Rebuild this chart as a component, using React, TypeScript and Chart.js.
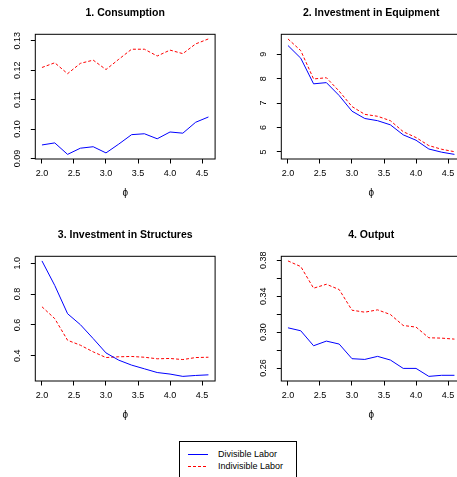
import React, { useEffect, useRef } from 'react';
import { Chart, registerables } from 'chart.js';

Chart.register(...registerables);

const FONT = "'Liberation Sans', Arial, Helvetica, sans-serif";
const BLUE = '#0000FF';
const RED = '#FF0000';

const phi = [2.0, 2.2, 2.4, 2.6, 2.8, 3.0, 3.2, 3.4, 3.6, 3.8, 4.0, 4.2, 4.4, 4.6];

const consumptionDivisible = [0.0946, 0.0953, 0.0914, 0.0935, 0.0940, 0.0919, 0.0949, 0.0981, 0.0984, 0.0967, 0.0990, 0.0986, 0.1023, 0.1041];
const consumptionIndivisible = [0.1209, 0.1225, 0.1188, 0.1223, 0.1234, 0.1202, 0.1237, 0.1271, 0.1271, 0.1248, 0.1268, 0.1256, 0.1289, 0.1306];

const equipmentDivisible = [9.36, 8.84, 7.79, 7.84, 7.31, 6.67, 6.37, 6.28, 6.11, 5.70, 5.48, 5.12, 4.99, 4.90];
const equipmentIndivisible = [9.63, 9.15, 7.99, 8.04, 7.49, 6.86, 6.54, 6.46, 6.28, 5.83, 5.59, 5.26, 5.11, 5.01];

const structuresDivisible = [1.015, 0.856, 0.673, 0.602, 0.512, 0.419, 0.372, 0.340, 0.316, 0.292, 0.282, 0.267, 0.273, 0.277];
const structuresIndivisible = [0.718, 0.641, 0.501, 0.469, 0.426, 0.389, 0.394, 0.396, 0.391, 0.381, 0.383, 0.376, 0.389, 0.391];

const outputDivisible = [0.3048, 0.3015, 0.2848, 0.2900, 0.2867, 0.2704, 0.2696, 0.2730, 0.2689, 0.2596, 0.2596, 0.2507, 0.2519, 0.2519];
const outputIndivisible = [0.3793, 0.3730, 0.3489, 0.3533, 0.3474, 0.3244, 0.3222, 0.3248, 0.3196, 0.3074, 0.3056, 0.2937, 0.2933, 0.2922];

const xTicks = [2.0, 2.5, 3.0, 3.5, 4.0, 4.5];
const xTickLabels = ['2.0', '2.5', '3.0', '3.5', '4.0', '4.5'];

const yTicks1 = [0.09, 0.10, 0.11, 0.12, 0.13];
const yLabels1 = ['0.09', '0.10', '0.11', '0.12', '0.13'];
const yTicks2 = [5, 6, 7, 8, 9];
const yLabels2 = ['5', '6', '7', '8', '9'];
const yTicks3 = [0.4, 0.6, 0.8, 1.0];
const yLabels3 = ['0.4', '0.6', '0.8', '1.0'];
const yTicks4 = [0.26, 0.28, 0.30, 0.32, 0.34, 0.36, 0.38];
const yLabels4 = ['0.26', '', '0.30', '', '0.34', '', '0.38'];

const titles = ['1. Consumption', '2. Investment in Equipment', '3. Investment in Structures', '4. Output'];
const seriesNames = ['Divisible Labor', 'Indivisible Labor'];
const xTitle = 'ϕ';

const boxPlugin = {
  id: 'rbox',
  afterDraw(chart: any) {
    const { ctx, chartArea } = chart;
    ctx.save();
    ctx.strokeStyle = '#000';
    ctx.lineWidth = 1;
    ctx.strokeRect(chartArea.left, chartArea.top, chartArea.right - chartArea.left, chartArea.bottom - chartArea.top);
    ctx.restore();
  },
};

type PanelProps = {
  title: string;
  div: number[];
  ind: number[];
  yTicks: number[];
  yLabels: string[];
  left: number;
  top: number;
};

function Panel({ title, div, ind, yTicks, yLabels, left, top }: PanelProps) {
  const ref = useRef<HTMLCanvasElement>(null);
  useEffect(() => {
    const all = [...div, ...ind];
    const lo = Math.min(...all);
    const hi = Math.max(...all);
    const ext = (hi - lo) * 0.04;
    const xlo = phi[0];
    const xhi = phi[phi.length - 1];
    const xext = (xhi - xlo) * 0.04;
    const tickFont = { family: FONT, size: 9 };
    const mctx = document.createElement('canvas').getContext('2d')!;
    mctx.font = `9px ${FONT}`;
    const widest = Math.max(...yLabels.map((l) => mctx.measureText(l).width));
    const tickGrid = {
      display: true,
      drawOnChartArea: false,
      drawTicks: true,
      tickLength: 4.5,
      color: '#000',
      lineWidth: 1,
    };
    const chart = new Chart(ref.current!, {
      type: 'line',
      data: {
        datasets: [
          {
            label: seriesNames[0],
            data: phi.map((x, i) => ({ x, y: div[i] })),
            borderColor: BLUE,
            borderWidth: 1,
            pointRadius: 0,
            fill: false,
            tension: 0,
          },
          {
            label: seriesNames[1],
            data: phi.map((x, i) => ({ x, y: ind[i] })),
            borderColor: RED,
            borderWidth: 1,
            borderDash: [3, 2],
            pointRadius: 0,
            fill: false,
            tension: 0,
          },
        ],
      },
      options: {
        animation: false,
        responsive: false,
        events: [],
        layout: { padding: { left: 0, top: 0, right: 12.9, bottom: 0 } },
        plugins: {
          legend: { display: false },
          tooltip: { enabled: false },
          title: {
            display: true,
            text: title,
            fullSize: false,
            color: '#000',
            font: { family: FONT, size: 10.5, weight: 'bold', lineHeight: 1.2 },
            padding: { top: 6.4, bottom: 15.3 },
          },
        },
        scales: {
          x: {
            type: 'linear',
            min: xlo - xext,
            max: xhi + xext,
            afterBuildTicks: (s: any) => {
              s.ticks = xTicks.map((v) => ({ value: v }));
            },
            afterFit: (s: any) => {
              s.height = 46;
            },
            ticks: {
              callback: (_v: any, i: number) => xTickLabels[i],
              font: tickFont,
              color: '#000',
              padding: 5.1,
              autoSkip: false,
              minRotation: 0,
              maxRotation: 0,
            },
            grid: tickGrid,
            border: { display: false },
            title: {
              display: true,
              text: xTitle,
              color: '#000',
              font: { family: FONT, size: 10, lineHeight: 1.2 },
              padding: { top: 0, bottom: 6 },
            },
          },
          y: {
            type: 'linear',
            min: lo - ext,
            max: hi + ext,
            afterBuildTicks: (s: any) => {
              s.ticks = yTicks.map((v) => ({ value: v }));
            },
            afterFit: (s: any) => {
              s.width = 35.3;
            },
            ticks: {
              callback: (_v: any, i: number) => yLabels[i],
              font: tickFont,
              color: '#000',
              minRotation: 90,
              maxRotation: 90,
              crossAlign: 'center',
              padding: 12.8 - widest / 2,
              autoSkip: false,
            },
            grid: tickGrid,
            border: { display: false },
          },
        },
      } as any,
      plugins: [boxPlugin],
    });
    return () => chart.destroy();
  }, []);
  return (
    <canvas
      ref={ref}
      width={228}
      height={205}
      style={{ position: 'absolute', left, top, width: 228, height: 205 }}
    />
  );
}

export default function App() {
  const textStyle: React.CSSProperties = {
    position: 'absolute',
    fontFamily: FONT,
    fontSize: 9,
    lineHeight: '12px',
    color: '#000',
    whiteSpace: 'nowrap',
  };
  return (
    <div
      style={{
        position: 'absolute',
        left: 0,
        top: 0,
        width: 457,
        height: 477,
        overflow: 'hidden',
        background: '#fff',
      }}
    >
      <Panel title={titles[0]} div={consumptionDivisible} ind={consumptionIndivisible} yTicks={yTicks1} yLabels={yLabels1} left={0} top={0} />
      <Panel title={titles[1]} div={equipmentDivisible} ind={equipmentIndivisible} yTicks={yTicks2} yLabels={yLabels2} left={246} top={0} />
      <Panel title={titles[2]} div={structuresDivisible} ind={structuresIndivisible} yTicks={yTicks3} yLabels={yLabels3} left={0} top={222} />
      <Panel title={titles[3]} div={outputDivisible} ind={outputIndivisible} yTicks={yTicks4} yLabels={yLabels4} left={246} top={222} />
      <div
        style={{
          position: 'absolute',
          left: 179,
          top: 441,
          width: 118,
          height: 45,
          border: '1px solid #000',
          boxSizing: 'border-box',
        }}
      />
      <svg style={{ position: 'absolute', left: 186, top: 448 }} width={26} height={24}>
        <line x1={2} y1={6.5} x2={22} y2={6.5} stroke={BLUE} strokeWidth={1} />
        <line x1={2} y1={18.5} x2={22} y2={18.5} stroke={RED} strokeWidth={1} strokeDasharray="3,2" />
      </svg>
      <div style={{ ...textStyle, left: 218, top: 448 }}>{seriesNames[0]}</div>
      <div style={{ ...textStyle, left: 218, top: 460 }}>{seriesNames[1]}</div>
    </div>
  );
}
